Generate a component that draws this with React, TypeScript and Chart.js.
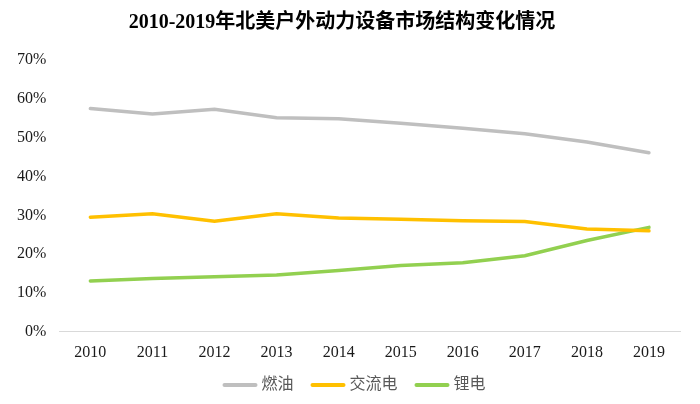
import React, { useEffect, useRef } from "react";
import { Chart, registerables } from "chart.js";

Chart.register(...registerables);

const years = ["2010", "2011", "2012", "2013", "2014", "2015", "2016", "2017", "2018", "2019"];
const fuel = [57.5, 56.1, 57.3, 55.1, 54.9, 53.7, 52.4, 51.0, 48.9, 46.1];
const ac = [29.5, 30.4, 28.5, 30.4, 29.3, 29.0, 28.6, 28.4, 26.5, 26.0];
const lithium = [13.1, 13.7, 14.2, 14.6, 15.8, 17.1, 17.8, 19.6, 23.5, 26.9];
const seriesNames = ["燃油", "交流电", "锂电"];
const titleText = "2010-2019年北美户外动力设备市场结构变化情况";

const FONT = "'Liberation Serif', 'Times New Roman', 'Noto Sans CJK SC', serif";

const lineLegend = {
  id: "lineLegend",
  afterDraw(chart: any) {
    const ctx = chart.ctx as CanvasRenderingContext2D;
    const items = chart.data.datasets.map((d: any) => ({ text: d.label as string, color: d.borderColor as string }));
    const lineLen = 35;
    const gap = 4;
    const spacing = 17;
    ctx.save();
    ctx.font = `16px ${FONT}`;
    const widths = items.map((it: any) => lineLen + gap + ctx.measureText(it.text).width);
    const total = widths.reduce((a: number, b: number) => a + b, 0) + spacing * (items.length - 1);
    let x = chart.width / 2 + 4 - total / 2;
    const y = 385;
    items.forEach((it: any, i: number) => {
      ctx.strokeStyle = it.color;
      ctx.lineWidth = 4;
      ctx.lineCap = "round";
      ctx.beginPath();
      ctx.moveTo(x + 2, y);
      ctx.lineTo(x + lineLen - 2, y);
      ctx.stroke();
      ctx.fillStyle = "#595959";
      ctx.textBaseline = "middle";
      ctx.textAlign = "left";
      ctx.fillText(it.text, x + lineLen + gap, y);
      x += widths[i] + spacing;
    });
    ctx.restore();
  },
};

export default function App() {
  const ref = useRef<HTMLCanvasElement | null>(null);
  useEffect(() => {
    if (!ref.current) return;
    const chart = new Chart(ref.current, {
      type: "line",
      data: {
        labels: years,
        datasets: [
          { label: seriesNames[0], data: fuel, borderColor: "#BFBFBF", backgroundColor: "#BFBFBF" },
          { label: seriesNames[1], data: ac, borderColor: "#FFC000", backgroundColor: "#FFC000" },
          { label: seriesNames[2], data: lithium, borderColor: "#92D050", backgroundColor: "#92D050" },
        ].map((d) => ({ ...d, borderWidth: 3.5, pointRadius: 0, tension: 0, fill: false, borderCapStyle: "round" as const })),
      },
      options: {
        responsive: false,
        animation: false,
        layout: { padding: { left: 4, right: 20, top: 2, bottom: 31 } },
        plugins: {
          title: {
            display: true,
            text: titleText,
            color: "#000",
            font: { family: FONT, size: 20, weight: "bold" },
            padding: { top: 9, bottom: 25 },
          },
          legend: { display: false },
          tooltip: { enabled: false },
        },
        scales: {
          x: {
            offset: true,
            grid: { display: false, drawTicks: false },
            border: { display: true, color: "#D9D9D9", width: 1 },
            ticks: { color: "#1a1a1a", font: { family: FONT, size: 16 }, padding: 11 },
          },
          y: {
            min: 0,
            max: 70,
            grid: { display: false, drawTicks: false },
            border: { display: false },
            ticks: {
              stepSize: 10,
              color: "#1a1a1a",
              font: { family: FONT, size: 16 },
              padding: 13,
              callback: (v) => `${v}%`,
            },
          },
        },
      },
      plugins: [lineLegend],
    });
    return () => chart.destroy();
  }, []);
  return (
    <div style={{ position: "fixed", left: 0, top: 0, width: 700, height: 404, background: "#fff" }}>
      <canvas ref={ref} width={700} height={404} style={{ width: 700, height: 404 }} />
    </div>
  );
}
